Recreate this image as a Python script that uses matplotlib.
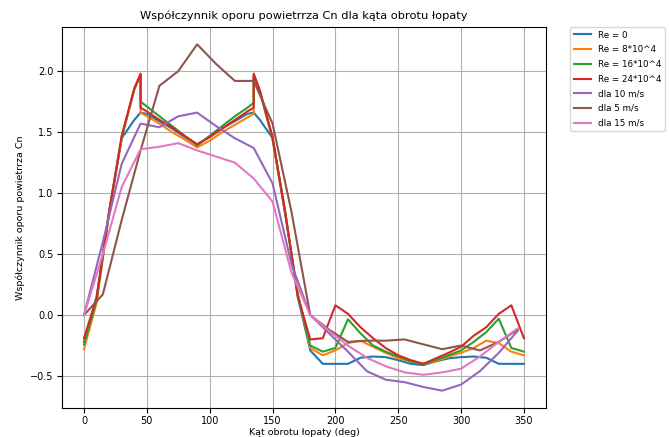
import matplotlib
matplotlib.use("Agg")
import matplotlib.pyplot as plt

# katy obrotu dla serii Re (krok 10 deg, podwojne punkty na 45 i 135)
kat_re = [0, 10, 20, 30, 40, 45, 45, 50, 60, 70, 80, 90, 100, 110, 120, 130, 135, 135,
          140, 150, 160, 170, 180, 190, 200, 210, 220, 230, 240, 250, 260, 270, 280,
          290, 300, 310, 320, 330, 340, 350]

cn_re0 = [-0.22, 0.15, 0.85, 1.45, 1.60, 1.66, 1.66, 1.65, 1.59, 1.53, 1.46, 1.40, 1.46,
          1.53, 1.59, 1.65, 1.66, 1.66, 1.60, 1.45, 0.85, 0.15, -0.29, -0.40, -0.40, -0.40,
          -0.35, -0.34, -0.345, -0.37, -0.40, -0.41, -0.38, -0.355, -0.345, -0.34, -0.35,
          -0.40, -0.40, -0.40]
cn_re8 = [-0.28, 0.10, 0.83, 1.45, 1.85, 1.97, 1.66, 1.63, 1.57, 1.50, 1.44, 1.375, 1.43,
          1.50, 1.56, 1.62, 1.65, 1.97, 1.83, 1.44, 0.83, 0.18, -0.27, -0.33, -0.29, -0.23,
          -0.21, -0.26, -0.31, -0.355, -0.38, -0.40, -0.38, -0.34, -0.31, -0.27, -0.21,
          -0.23, -0.30, -0.33]
cn_re16 = [-0.24, 0.12, 0.84, 1.46, 1.85, 1.97, 1.75, 1.71, 1.63, 1.55, 1.47, 1.39, 1.47,
           1.55, 1.63, 1.70, 1.74, 1.97, 1.83, 1.45, 0.84, 0.17, -0.25, -0.30, -0.27, -0.035,
           -0.15, -0.25, -0.30, -0.34, -0.38, -0.40, -0.37, -0.33, -0.29, -0.22, -0.14,
           -0.03, -0.27, -0.30]
cn_re24 = [-0.19, 0.14, 0.85, 1.47, 1.86, 1.98, 1.70, 1.67, 1.60, 1.54, 1.47, 1.40, 1.46,
           1.53, 1.60, 1.67, 1.70, 1.98, 1.84, 1.46, 0.85, 0.16, -0.20, -0.19, 0.08, 0.01,
           -0.10, -0.19, -0.27, -0.33, -0.37, -0.40, -0.355, -0.31, -0.26, -0.17, -0.10,
           0.01, 0.08, -0.19]

# katy obrotu dla serii predkosci wiatru (krok 15 deg)
kat_v = [0, 15, 30, 45, 60, 75, 90, 105, 120, 135, 150, 165, 180, 195, 210, 225, 240,
         255, 270, 285, 300, 315, 330, 345]

cn_v10 = [0.0, 0.60, 1.24, 1.57, 1.54, 1.63, 1.66, 1.55, 1.45, 1.37, 1.08, 0.42, 0.0,
          -0.15, -0.30, -0.46, -0.53, -0.55, -0.59, -0.62, -0.57, -0.46, -0.31, -0.13]
cn_v5 = [0.0, 0.17, 0.78, 1.35, 1.88, 2.00, 2.22, 2.06, 1.92, 1.92, 1.57, 0.85, 0.0,
         -0.12, -0.22, -0.21, -0.21, -0.20, -0.24, -0.28, -0.25, -0.29, -0.22, -0.12]
cn_v15 = [0.0, 0.50, 1.05, 1.36, 1.38, 1.41, 1.35, 1.30, 1.25, 1.12, 0.93, 0.35, 0.0,
          -0.13, -0.25, -0.35, -0.42, -0.47, -0.49, -0.47, -0.44, -0.34, -0.22, -0.11]


def main():
    fig = plt.figure(figsize=(6.69, 4.37), dpi=100)
    ax = fig.add_axes([0.0927, 0.0664, 0.7233, 0.8718])

    ax.plot(kat_re, cn_re0, label='Re = 0')
    ax.plot(kat_re, cn_re8, label='Re = 8*10^4')
    ax.plot(kat_re, cn_re16, label='Re = 16*10^4')
    ax.plot(kat_re, cn_re24, label='Re = 24*10^4')
    ax.plot(kat_v, cn_v10, label='dla 10 m/s')
    ax.plot(kat_v, cn_v5, label='dla 5 m/s')
    ax.plot(kat_v, cn_v15, label='dla 15 m/s')

    ax.set_title('Współczynnik oporu powietrrza Cn dla kąta obrotu łopaty', fontsize=8.2)
    ax.set_xlabel('Kąt obrotu łopaty (deg)', fontsize=6.8, labelpad=1)
    ax.set_ylabel('Współczynnik oporu powietrrza Cn', fontsize=6.8)
    ax.tick_params(labelsize=7, pad=2.5)
    ax.grid(True)
    ax.legend(bbox_to_anchor=(1.05, 1), loc='upper left', borderaxespad=0.,
              fontsize=6.3, handlelength=2.0, labelspacing=0.65)

    fig.savefig('out.png', dpi=100)


if __name__ == "__main__":
    main()
